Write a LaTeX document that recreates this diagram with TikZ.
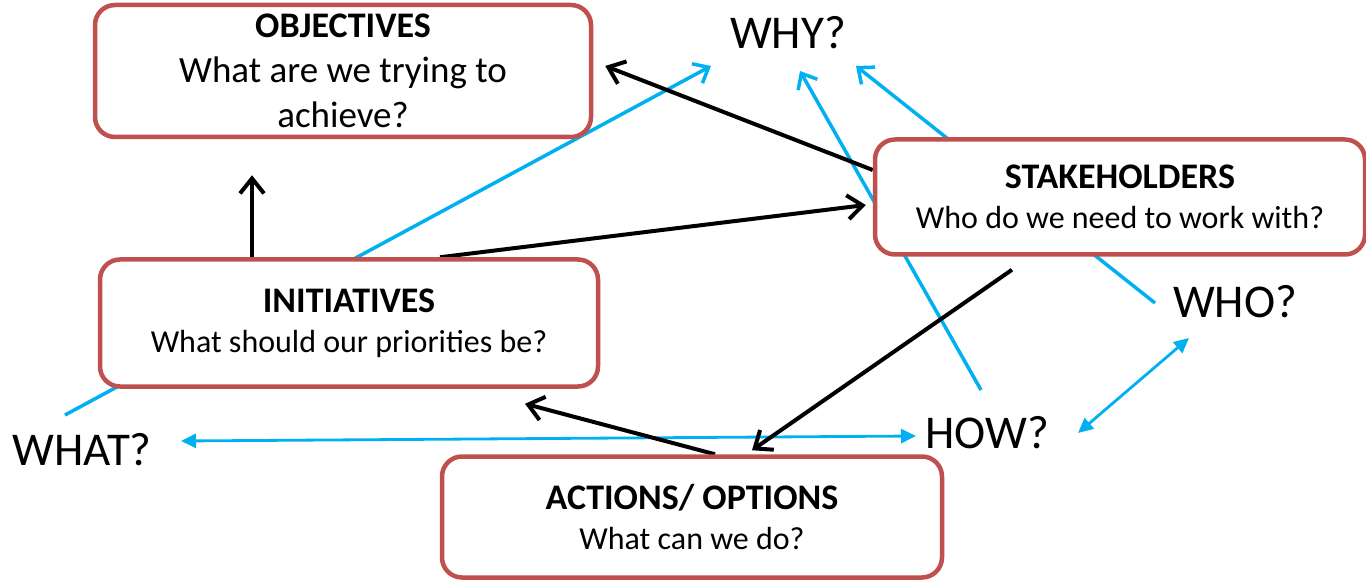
\documentclass[tikz,border=0pt]{standalone}
\usepackage{fontspec}
\setmainfont{Carlito}
\usetikzlibrary{arrows.meta}
\definecolor{boxred}{RGB}{192,80,77}
\definecolor{skyblue}{RGB}{0,176,240}
\pgfdeclarelayer{bg}
\pgfsetlayers{bg,main}

\begin{document}
\begin{tikzpicture}[x=1pt,y=-1pt,
  box/.style={draw=boxred,line width=4.5pt,rounded corners=20pt,fill=white,
    align=center,inner sep=0pt,font=\fontsize{32}{40}\selectfont},
  ask/.style={inner sep=0pt,font=\fontsize{47}{50}\selectfont},
  blk/.style={line width=4pt,-{Straight Barb[length=15pt,width=24pt]}},
  blu/.style={skyblue,line width=3.5pt,-{Straight Barb[length=13pt,width=22pt]}},
  both/.style={skyblue,line width=2.8pt,
    {Triangle[length=15pt,width=14pt]}-{Triangle[length=15pt,width=14pt]}}]
\useasboundingbox (0,0) rectangle (1366,580);

% boxes
\node[box,minimum width=496pt,minimum height=132pt,font=\fontsize{37}{45}\selectfont] (obj) at (343,71)
  {{\bfseries\fontsize{36}{45}\selectfont OBJECTIVES}\\What are we trying to\\achieve?};
\node[box,minimum width=490pt,minimum height=115pt] (stk) at (1120,197)
  {{\bfseries\fontsize{36}{40}\selectfont STAKEHOLDERS}\\Who do we need to work with?};
\node[box,minimum width=498pt,minimum height=127pt] (ini) at (349,323)
  {{\bfseries\fontsize{36}{40}\selectfont INITIATIVES}\\What should our priorities be?};
\node[box,minimum width=500pt,minimum height=121pt] (act) at (692,517)
  {{\bfseries\fontsize{36}{40}\selectfont ACTIONS/ OPTIONS}\\What can we do?};

% questions
\node[ask] (why) at (788,33) {WHY?};
\node[ask] (who) at (1235,302) {WHO?};
\node[ask] (how) at (987,433) {HOW?};
\node[ask] (what) at (82,450) {WHAT?};

\begin{pgfonlayer}{bg}
\draw[blu] ([xshift=-17pt,yshift=35pt]what.center) -- ([xshift=-77pt,yshift=-33pt]why.center);
\draw[blu] ([xshift=-6pt,yshift=43pt]how.center) -- ([xshift=12pt,yshift=-38pt]why.center);
\draw[blu] ([xshift=-80pt,yshift=-1pt]who.center) -- ([xshift=68pt,yshift=-33pt]why.center);
\draw[both] ([xshift=99pt,yshift=9pt]what.center) -- ([xshift=-71pt,yshift=-3pt]how.center);
\draw[both] ([xshift=91pt]how.center) -- ([xshift=-46pt,yshift=-36pt]who.center);

\draw[blk] ([xshift=-97pt]ini.north) -- ([xshift=-91pt,yshift=-36pt]obj.south);
\draw[blk] ([yshift=27pt]stk.west) -- ([xshift=12pt,yshift=5pt]obj.east);
\draw[blk] ([xshift=91pt]ini.north) -- ([xshift=-7pt,yshift=-8pt]stk.west);
\draw[blk] ([xshift=-108pt,yshift=-13pt]stk.south) -- ([xshift=60pt,yshift=4pt]act.north);
\draw[blk] ([xshift=23pt]act.north) -- ([xshift=176pt,yshift=-15pt]ini.south);
\end{pgfonlayer}
\end{tikzpicture}
\end{document}
